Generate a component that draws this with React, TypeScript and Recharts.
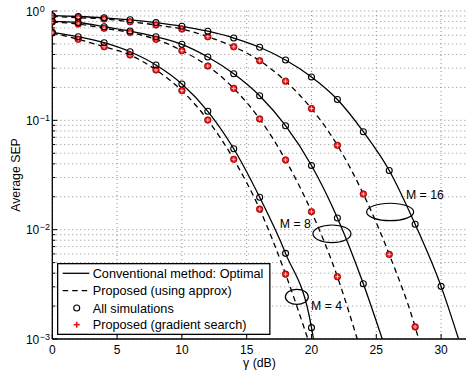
import React from 'react'
import { ComposedChart, Line, XAxis, YAxis, CartesianGrid, ReferenceDot } from 'recharts'

const FONT = '"Liberation Sans", Arial, Helvetica, sans-serif'

// gamma (dB) where simulation / gradient-search points were taken
const gammaM4 = [0, 2, 4, 6, 8, 10, 12, 14, 16, 18, 20]
const gammaM8 = [0, 2, 4, 6, 8, 10, 12, 14, 16, 18, 20, 22, 24]
const gammaM16 = [0, 2, 4, 6, 8, 10, 12, 14, 16, 18, 20, 22, 24, 26, 28, 30]

// simulated SEP (circles, on the optimal curves)
const simM4 = [0.638, 0.582, 0.513, 0.424, 0.321, 0.215, 0.121, 0.055, 0.0198, 0.00607, 0.00127]
const simM8 = [0.805, 0.785, 0.718, 0.656, 0.582, 0.496, 0.38, 0.267, 0.168, 0.0893, 0.0386, 0.0128, 0.0032]
const simM16 = [0.906, 0.891, 0.867, 0.831, 0.783, 0.725, 0.653, 0.566, 0.466, 0.356, 0.249, 0.155, 0.0787, 0.0348, 0.0112, 0.00303]

// proposed, gradient search (red pluses, on the approx curves)
const gradM4 = [0.629, 0.551, 0.471, 0.396, 0.289, 0.187, 0.1006, 0.044, 0.0154, 0.00392]
const gradM8 = [0.793, 0.76, 0.695, 0.636, 0.551, 0.434, 0.314, 0.196, 0.103, 0.0434, 0.0146, 0.00371]
const gradM16 = [0.895, 0.869, 0.845, 0.798, 0.745, 0.684, 0.582, 0.471, 0.351, 0.228, 0.128, 0.0591, 0.0212, 0.00594, 0.00129]

// where each curve leaves the plot at SEP = 1e-3 (M = 4, 8, 16)
const SEP_FLOOR = 0.001
const optEndGamma = [20.15, 25.46, 31.35]
const approxEndGamma = [19.72, 23.53, 28.27]

const xTicks = [0, 5, 10, 15, 20, 25, 30]
const yTicks = [
  0.001, 0.002, 0.003, 0.004, 0.005, 0.006, 0.007, 0.008, 0.009,
  0.01, 0.02, 0.03, 0.04, 0.05, 0.06, 0.07, 0.08, 0.09,
  0.1, 0.2, 0.3, 0.4, 0.5, 0.6, 0.7, 0.8, 0.9, 1,
]

const pts = (xs: number[], ys: number[]) => xs.map((x, i) => ({ x, y: ys[i] }))
const curve = (xs: number[], ys: number[], end: number) => [...pts(xs, ys), { x: end, y: SEP_FLOOR }]

const optimal = [
  curve(gammaM4, simM4, optEndGamma[0]),
  curve(gammaM8, simM8, optEndGamma[1]),
  curve(gammaM16, simM16, optEndGamma[2]),
]
const approx = [
  curve(gammaM4.slice(0, gradM4.length), gradM4, approxEndGamma[0]),
  curve(gammaM8.slice(0, gradM8.length), gradM8, approxEndGamma[1]),
  curve(gammaM16.slice(0, gradM16.length), gradM16, approxEndGamma[2]),
]
const sims = [pts(gammaM4, simM4), pts(gammaM8, simM8), pts(gammaM16, simM16)]
const grads = [
  pts(gammaM4.slice(0, gradM4.length), gradM4),
  pts(gammaM8.slice(0, gradM8.length), gradM8),
  pts(gammaM16.slice(0, gradM16.length), gradM16),
]

const CircleDot = (p: any) => {
  if (p.cx == null || p.cy == null) return <g key={`c${p.index}`} />
  return <circle key={`c${p.index}`} cx={p.cx} cy={p.cy} r={3} fill="none" stroke="#000" strokeWidth={1.1} />
}

const PlusDot = (p: any) => {
  if (p.cx == null || p.cy == null) return <g key={`p${p.index}`} />
  const { cx, cy } = p
  return (
    <g key={`p${p.index}`}>
      <circle cx={cx} cy={cy} r={3.3} fill="#ee1111" stroke="#7a0000" strokeWidth={0.7} />
      <line x1={cx - 2} x2={cx + 2} y1={cy} y2={cy} stroke="#ffc8c8" strokeWidth={0.9} />
      <line x1={cx} x2={cx} y1={cy - 2} y2={cy + 2} stroke="#ffc8c8" strokeWidth={0.9} />
    </g>
  )
}

const XTick = (p: any) => {
  const { x, y, payload } = p
  return (
    <g>
      <line x1={x} x2={x} y1={y} y2={y - 5} stroke="#000" />
      <text x={x} y={y + 14.5} textAnchor="middle" fontSize={12} fontFamily={FONT} fill="#000">
        {payload.value}
      </text>
    </g>
  )
}

const TopTick = (p: any) => {
  const { x, y } = p
  return <line x1={x} x2={x} y1={y} y2={y + 5} stroke="#000" />
}

const YTick = (p: any) => {
  const { x, y, payload } = p
  const v = payload.value as number
  const e = Math.log10(v)
  const major = Math.abs(e - Math.round(e)) < 1e-6
  if (!major) return <line x1={x} x2={x + 3} y1={y} y2={y} stroke="#000" />
  const exp = Math.round(e)
  return (
    <g>
      <line x1={x} x2={x + 5} y1={y} y2={y} stroke="#000" />
      <text x={x - 13} y={y + 4.5} textAnchor="end" fontSize={12} fontFamily={FONT} fill="#000">
        10
      </text>
      <text x={x - 12.6} y={y + 0.5} fontSize={9} fontFamily={FONT} fill="#000">
        {exp === 0 ? '0' : `\u2212${-exp}`}
      </text>
    </g>
  )
}

const ellipseShape = (rx: number, ry: number, label: string, dx: number, dy: number, anchor: string) => (p: any) => (
  <g>
    <ellipse cx={p.cx} cy={p.cy} rx={rx} ry={ry} fill="none" stroke="#000" strokeWidth={1.2} />
    <text x={p.cx + dx} y={p.cy + dy} textAnchor={anchor} fontSize={12.3} fontFamily={FONT} fill="#000">
      {label}
    </text>
  </g>
)

function LegendBox() {
  const rows = [10.3, 27.7, 45, 61.7]
  const t = { fontSize: 12.7, fontFamily: FONT, fill: '#000' }
  return (
    <svg width={214} height={72} style={{ position: 'absolute', left: 57, top: 262.5 }}>
      <rect x={0.65} y={0.65} width={212.2} height={70.7} fill="#fff" stroke="#000" strokeWidth={1.3} />
      <line x1={5.7} x2={32.3} y1={rows[0]} y2={rows[0]} stroke="#000" strokeWidth={1.3} />
      <text x={35.7} y={rows[0] + 4.5} {...t}>Conventional method: Optimal</text>
      <line x1={5.7} x2={32.3} y1={rows[1]} y2={rows[1]} stroke="#000" strokeWidth={1.3} strokeDasharray="5.5 4" />
      <text x={35.7} y={rows[1] + 4.5} {...t}>Proposed (using approx)</text>
      <circle cx={19.7} cy={rows[2]} r={3} fill="none" stroke="#000" strokeWidth={1.1} />
      <text x={35.7} y={rows[2] + 4.5} {...t}>All simulations</text>
      <line x1={16.7} x2={22.7} y1={rows[3]} y2={rows[3]} stroke="#ee1111" strokeWidth={1.6} />
      <line x1={19.7} x2={19.7} y1={rows[3] - 3} y2={rows[3] + 3} stroke="#ee1111" strokeWidth={1.6} />
      <text x={35.7} y={rows[3] + 4.5} {...t}>Proposed (gradient search)</text>
    </svg>
  )
}

export default function App() {
  return (
    <div style={{ position: 'absolute', left: 0, top: 0, width: 466, height: 380, overflow: 'hidden', background: '#fff' }}>
      <ComposedChart width={467} height={380} margin={{ top: 11, right: 0, bottom: 0, left: 0 }}>
        <CartesianGrid stroke="#8c8c8c" strokeDasharray="1 3" strokeWidth={1} />
        <XAxis
          dataKey="x"
          type="number"
          domain={[0, 32]}
          ticks={xTicks}
          interval={0}
          height={41}
          tickSize={0}
          tickMargin={0}
          axisLine={{ stroke: '#000', strokeWidth: 1.3 }}
          tickLine={false}
          tick={XTick}
          allowDataOverflow
          label={{
            content: () => (
              <text x={259.5} y={366.5} textAnchor="middle" fontSize={12.3} fontFamily={FONT} fill="#000">
                γ (dB)
              </text>
            ),
          }}
        />
        <XAxis
          xAxisId="top"
          orientation="top"
          dataKey="x"
          type="number"
          domain={[0, 32]}
          ticks={xTicks}
          interval={0}
          height={0}
          tickSize={0}
          tickMargin={0}
          axisLine={{ stroke: '#000', strokeWidth: 1.3 }}
          tickLine={false}
          tick={TopTick}
        />
        <YAxis
          type="number"
          scale="log"
          domain={[0.001, 1]}
          ticks={yTicks}
          interval={0}
          width={52.3}
          tickSize={0}
          tickMargin={0}
          axisLine={{ stroke: '#000', strokeWidth: 1.3 }}
          tickLine={false}
          tick={YTick}
          allowDataOverflow
          label={{
            content: () => (
              <text
                x={19.5}
                y={175}
                transform="rotate(-90 19.5 175)"
                textAnchor="middle"
                fontSize={12.3}
                fontFamily={FONT}
                fill="#000"
              >
                Average SEP
              </text>
            ),
          }}
        />
        {optimal.map((d, i) => (
          <Line key={`opt${i}`} data={d} dataKey="y" type="monotone" stroke="#000" strokeWidth={1.3}
            dot={false} activeDot={false} legendType="none" isAnimationActive={false} />
        ))}
        {approx.map((d, i) => (
          <Line key={`apx${i}`} data={d} dataKey="y" type="monotone" stroke="#000" strokeWidth={1.3}
            strokeDasharray="5.5 4" dot={false} activeDot={false} legendType="none" isAnimationActive={false} />
        ))}
        {grads.map((d, i) => (
          <Line key={`grad${i}`} data={d} dataKey="y" stroke="none" dot={PlusDot}
            activeDot={false} legendType="none" isAnimationActive={false} />
        ))}
        {sims.map((d, i) => (
          <Line key={`sim${i}`} data={d} dataKey="y" stroke="none" dot={CircleDot}
            activeDot={false} legendType="none" isAnimationActive={false} />
        ))}
        <ReferenceDot x={18.87} y={0.00243} ifOverflow="visible" shape={ellipseShape(11.5, 7.5, 'M = 4', 14.2, 13.5, 'start')} />
        <ReferenceDot x={21.58} y={0.00917} ifOverflow="visible" shape={ellipseShape(19, 8.8, 'M = 8', -21, -6.2, 'end')} />
        <ReferenceDot x={26.07} y={0.01452} ifOverflow="visible" shape={ellipseShape(23.5, 8.7, 'M = 16', 15.8, -12.7, 'start')} />
      </ComposedChart>
      <LegendBox />
    </div>
  )
}
